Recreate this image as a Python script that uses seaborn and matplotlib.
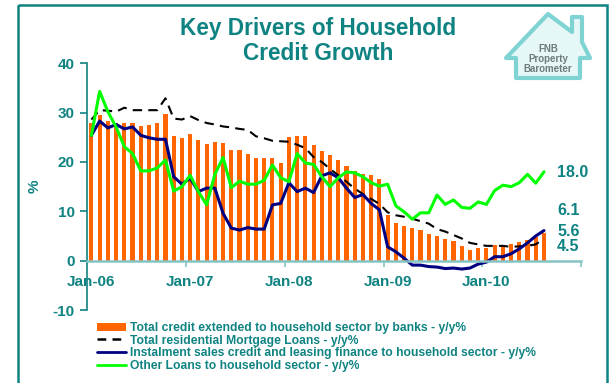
import numpy as np
import pandas as pd
import matplotlib
matplotlib.use("Agg")
import matplotlib.pyplot as plt
import seaborn as sns
from matplotlib.patches import Patch, Rectangle, Polygon
from matplotlib.lines import Line2D

# ---------------- data (monthly, Jan-06 .. Aug-10) ----------------
total_credit = [27.8, 29.5, 28.3, 27.9, 27.9, 27.9, 27.3, 27.5, 27.9, 29.7,
                25.2, 24.9, 25.6, 24.4, 23.6, 24.0, 23.8, 22.4, 22.4, 21.6,
                20.8, 20.8, 20.8, 19.8, 25.0, 25.2, 25.2, 23.4, 22.2, 21.4,
                20.4, 19.2, 18.2, 17.6, 17.4, 16.5, 9.2, 7.6, 7.0, 6.6,
                6.2, 5.4, 4.9, 4.3, 4.0, 3.0, 2.2, 2.6, 2.6, 3.2,
                3.2, 3.3, 3.8, 4.2, 4.7, 5.6]
mortgage = [28.6, 30.5, 30.4, 30.2, 31.0, 30.5, 30.5, 30.5, 30.5, 32.9,
            28.8, 28.6, 29.3, 28.5, 27.9, 27.6, 27.2, 27.0, 26.7, 26.5,
            25.2, 24.8, 24.3, 24.2, 24.1, 23.5, 22.8, 21.0, 20.0, 18.6,
            17.3, 16.0, 14.6, 13.5, 12.5, 11.5, 9.8, 9.2, 8.9, 8.5,
            8.0, 7.5, 6.4, 5.9, 5.2, 4.5, 3.6, 3.3, 3.0, 3.0,
            3.0, 2.8, 2.9, 3.0, 3.3, 4.5]
instalment = [25.4, 28.3, 26.9, 27.6, 26.7, 27.1, 25.4, 24.9, 24.6, 24.6,
              17.0, 15.5, 16.7, 14.0, 14.7, 14.7, 9.6, 6.6, 6.2, 6.7,
              6.4, 6.4, 11.3, 11.6, 15.8, 14.0, 14.7, 13.8, 17.2, 17.8,
              16.8, 14.7, 12.8, 13.4, 11.6, 10.3, 2.8, 1.8, 0.5, -0.9,
              -0.9, -1.2, -1.3, -1.6, -1.5, -1.7, -1.5, -0.7, -0.3, 0.8,
              0.8, 1.4, 2.4, 3.6, 5.0, 6.1]
other_loans = [25.4, 34.3, 30.2, 27.1, 23.1, 21.7, 18.2, 18.2, 18.8, 20.4,
               14.1, 15.0, 17.3, 14.0, 11.3, 17.5, 20.9, 14.8, 16.1, 15.5,
               15.5, 16.3, 19.4, 16.8, 16.0, 21.7, 19.8, 19.5, 17.0, 15.0,
               16.8, 18.0, 17.8, 17.0, 15.8, 15.1, 15.5, 11.1, 9.9, 8.4,
               9.7, 9.7, 13.3, 11.4, 12.3, 10.8, 10.6, 11.9, 11.4, 14.2,
               15.3, 15.0, 15.8, 17.5, 15.7, 18.0]
tick_labels = ["Jan-06", "Jan-07", "Jan-08", "Jan-09", "Jan-10"]
end_labels = ["18.0", "6.1", "5.6", "4.5"]
series_names = ["Total credit extended to household sector by banks - y/y%",
                "Total residential Mortgage Loans - y/y%",
                "Instalment sales credit and leasing finance to household sector - y/y%",
                "Other Loans to household sector - y/y%"]

TEAL = "#0f8282"
ORANGE = "#FF6600"
NAVY = "#000080"
GREEN = "#00FF00"

sns.set_style("white")
plt.rcParams["font.family"] = ["Liberation Sans", "DejaVu Sans"]
plt.rcParams["font.weight"] = "bold"

W, H = 616, 383
fig = plt.figure(figsize=(W / 100, H / 100), dpi=100)

# overlay for frame & logo (pixel coordinates)
ov = fig.add_axes([0, 0, 1, 1], zorder=0)
ov.set_xlim(0, W)
ov.set_ylim(H, 0)
ov.axis("off")
ov.add_patch(Rectangle((18, 5), 589, 420, fill=False, ec=TEAL, lw=1.8))
house = [(506, 58), (548, 14), (572, 32), (572, 17), (582, 17), (582, 42),
         (590, 58), (580, 58), (580, 78), (516, 78), (516, 58)]
ov.add_patch(Polygon(house, closed=True, fc="#e6f7f7", ec="#7fd3d3", lw=3, joinstyle="round"))
ov.text(548, 59, "FNB\nProperty\nBarometer", ha="center", va="center",
        fontsize=7, color="#6d7b7b", fontweight="bold", linespacing=1.0)

# title
ov.text(318, 41, "Key Drivers of Household\nCredit Growth", ha="center", va="center",
        fontsize=16.3, color=TEAL, fontweight="bold", linespacing=1.08)

ax = fig.add_axes([87.3 / W, 1 - 310 / H, (581 - 87.3) / W, (310 - 63.3) / H], zorder=1)
ax.patch.set_alpha(0)

idx = np.arange(len(total_credit))
sns.barplot(x=idx, y=total_credit, native_scale=True, width=0.5, color=ORANGE,
            saturation=1, ax=ax, zorder=2, linewidth=0)
sns.lineplot(x=idx, y=mortgage, color="black", lw=1.5, linestyle=(0, (4.5, 3)), ax=ax, zorder=3)
sns.lineplot(x=idx, y=instalment, color=NAVY, lw=2.2, ax=ax, zorder=4)
sns.lineplot(x=idx, y=other_loans, color=GREEN, lw=2.2, ax=ax, zorder=5)

ax.set_xlim(-0.5, 59.5)
ax.set_ylim(-10, 40)
for s in ["top", "right"]:
    ax.spines[s].set_visible(False)
ax.spines["left"].set_color(TEAL)
ax.spines["left"].set_linewidth(1.2)
ax.spines["bottom"].set_position(("data", 0))
ax.spines["bottom"].set_color("#86c4c4")
ax.spines["bottom"].set_linewidth(1.8)
ax.spines["bottom"].set_zorder(6)

ax.set_yticks([-10, 0, 10, 20, 30, 40])
ax.set_yticklabels(["-10", "0", "10", "20", "30", "40"])
ax.tick_params(axis="y", direction="out", length=5, width=1.2, color=TEAL,
               labelcolor=TEAL, labelsize=11, pad=4, left=True)
ax.set_xticks([0, 12, 24, 36, 48])
ax.set_xticklabels(tick_labels)
ax.set_xticks([11.5, 23.5, 35.5, 47.5, 59.5], minor=True)
ax.tick_params(axis="x", which="major", length=0, labelcolor=TEAL, labelsize=11, pad=10, bottom=True)
ax.tick_params(axis="x", which="minor", length=4, width=1.2, color="#86c4c4", direction="out", bottom=True)
for lab in ax.get_xticklabels() + ax.get_yticklabels():
    lab.set_fontweight("bold")
ax.set_xlabel("")
ax.set_ylabel("%", color=TEAL, fontsize=11, fontweight="bold", labelpad=8)
ax.grid(False)

# end-value labels
for txt, yv in zip(end_labels, [17.9, 10.1, 6.0, 2.9]):
    ax.text(56.6, yv, txt, color=TEAL, fontsize=11.5, fontweight="bold",
            ha="left", va="center", clip_on=False)

handles = [Patch(fc=ORANGE, ec="none"),
           Line2D([], [], color="black", lw=1.8, linestyle=(0, (3.5, 2.5))),
           Line2D([], [], color=NAVY, lw=2),
           Line2D([], [], color=GREEN, lw=2)]
leg = fig.legend(handles, series_names, loc="upper left",
                 bbox_to_anchor=(97 / W, 1 - 322 / H), frameon=False,
                 fontsize=8.7, handlelength=2.4, handletextpad=0.3,
                 labelspacing=0.05, borderpad=0, borderaxespad=0)
for t in leg.get_texts():
    t.set_color(TEAL)
    t.set_fontweight("bold")

fig.savefig("out.png", dpi=100)
